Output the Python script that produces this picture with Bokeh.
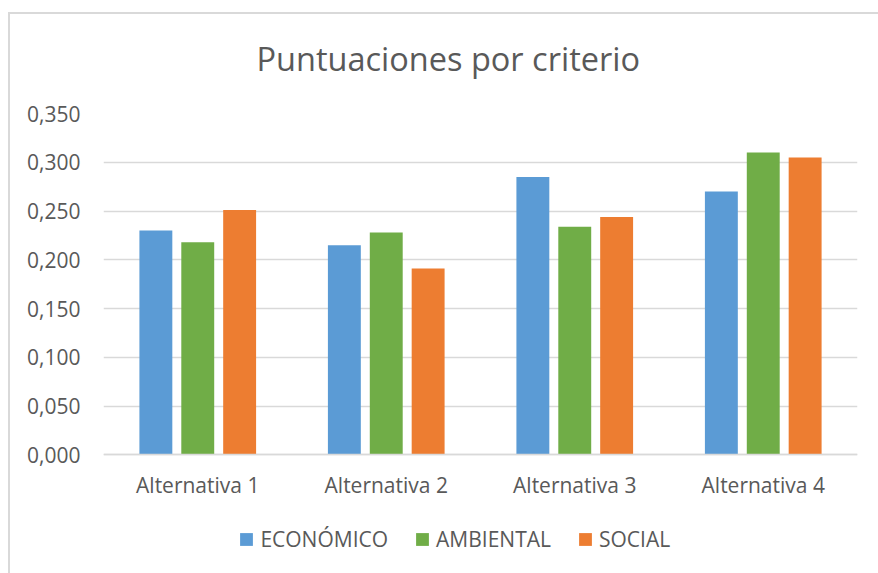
from bokeh.plotting import figure
from bokeh.models import (ColumnDataSource, FactorRange, Range1d, FixedTicker,
                          Legend, LegendItem, InlineStyleSheet)
from bokeh.transform import dodge
from bokeh.embed import file_html
from bokeh.resources import INLINE

categories = ["Alternativa 1", "Alternativa 2", "Alternativa 3", "Alternativa 4"]
economico = [0.230, 0.215, 0.285, 0.270]
ambiental = [0.218, 0.228, 0.234, 0.310]
social = [0.251, 0.191, 0.244, 0.305]
series_names = ["ECONÓMICO", "AMBIENTAL", "SOCIAL"]
colors = ["#5B9BD5", "#70AD47", "#ED7D31"]
tick_values = [0.0, 0.05, 0.10, 0.15, 0.20, 0.25, 0.30, 0.35]
tick_labels = ["0,000", "0,050", "0,100", "0,150", "0,200", "0,250", "0,300", "0,350"]

source = ColumnDataSource(data=dict(cat=categories, eco=economico, amb=ambiental, soc=social))

FONT = "Open Sans"
TXT = "#595959"
GRID = "#d9d9d9"
SMALL = "21px"

W, H = 862, 557
TOP, LEFT, RIGHT = 111, 103, 5
ZERO_Y = 454  # pixel row of the value axis zero line
y_max = tick_values[-1]
frame_h = H - TOP
y_min = y_max - frame_h * y_max / (ZERO_Y - TOP)

border_css = InlineStyleSheet(css="""
:host::after {
  content: '';
  position: absolute;
  left: 8px; top: 12px; right: -16px; bottom: -16px;
  border-left: 2px solid #d9d9d9;
  border-top: 2px solid #d9d9d9;
  pointer-events: none;
}
""")

p = figure(x_range=FactorRange(factors=categories, range_padding=0),
           y_range=Range1d(y_min, y_max),
           width=W, height=H, output_backend="svg", toolbar_location=None,
           min_border_left=LEFT, min_border_right=RIGHT, min_border_top=TOP, min_border_bottom=0,
           title="Puntuaciones por criterio")
p.stylesheets = [border_css]
p.outline_line_color = None
p.background_fill_color = "white"
p.border_fill_color = "white"

p.title.text_font = FONT
p.title.text_font_size = "32.5px"
p.title.text_font_style = "normal"
p.title.text_color = TXT
p.title.align = "left"
p.title.offset = 153
p.title.standoff = 66

cols = ["eco", "amb", "soc"]
offsets = [-0.2222, 0.0, 0.2222]
renderers = []
for col, off, c in zip(cols, offsets, colors):
    r = p.vbar(x=dodge("cat", off, range=p.x_range), top=col, bottom=0, width=0.1746,
               source=source, fill_color=c, line_color=None)
    renderers.append(r)

p.yaxis.ticker = FixedTicker(ticks=tick_values)
p.yaxis.major_label_overrides = {v: l for v, l in zip(tick_values, tick_labels)}
p.yaxis.axis_line_color = None
p.yaxis.major_tick_line_color = None
p.yaxis.minor_tick_line_color = None
p.yaxis.major_tick_out = 0
p.yaxis.major_label_standoff = 23
p.yaxis.major_label_text_font = FONT
p.yaxis.major_label_text_font_size = SMALL
p.yaxis.major_label_text_color = TXT

p.xaxis.fixed_location = 0
p.xaxis.axis_line_color = GRID
p.xaxis.axis_line_width = 1.5
p.xaxis.major_tick_line_color = None
p.xaxis.major_tick_out = 0
p.xaxis.major_label_standoff = 16
p.xaxis.major_label_text_font = FONT
p.xaxis.major_label_text_font_size = SMALL
p.xaxis.major_label_text_color = TXT

p.xgrid.grid_line_color = None
p.ygrid.ticker = FixedTicker(ticks=tick_values)
p.ygrid.grid_line_color = GRID
p.ygrid.grid_line_width = 1.5

legend = Legend(items=[LegendItem(label=n, renderers=[r]) for n, r in zip(series_names, renderers)],
                orientation="horizontal", location=(135.4, 3.7),
                glyph_width=16, glyph_height=16, label_standoff=6, spacing=26,
                padding=0, margin=0, border_line_color=None, background_fill_alpha=0,
                label_text_font=FONT, label_text_font_size=SMALL, label_text_color=TXT)
p.add_layout(legend)

open("out.html", "w").write(file_html(p, INLINE))
